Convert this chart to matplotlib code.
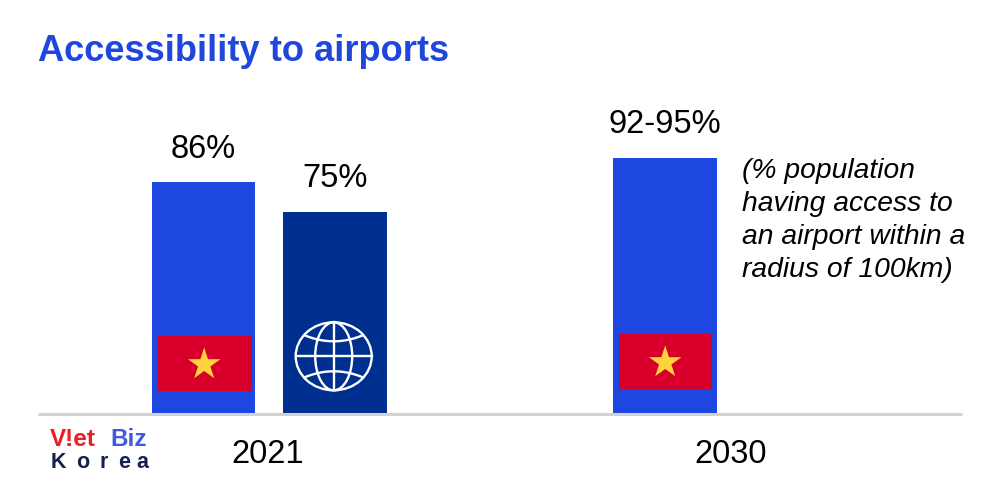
import numpy as np
import matplotlib
matplotlib.use("Agg")
import matplotlib.pyplot as plt
from matplotlib.patches import Rectangle, Ellipse, Polygon

plt.rcParams['font.family'] = ['Liberation Sans', 'DejaVu Sans']

# data
title = "Accessibility to airports"
years = ["2021", "2030"]
bar_values = [86, 75, 95]
bar_labels = ["86%", "75%", "92-95%"]
note = "(% population\nhaving access to\nan airport within a\nradius of 100km)"

BLUE, NAVY = "#1D47E0", "#00308F"
W, H = 1000, 491
fig = plt.figure(figsize=(W/100, H/100), dpi=100, facecolor="white")

base = 413.5
ppu = 2.69
ax = fig.add_axes([38/W, (H-base)/H, 924/W, base/H])
ax.set_xlim(38, 962)
ax.set_ylim(0, base/ppu)
ax.patch.set_alpha(0)
for s in ("top", "left", "right"):
    ax.spines[s].set_visible(False)
ax.spines["bottom"].set_color("#d2d2d2")
ax.spines["bottom"].set_linewidth(2.2)
ax.spines["bottom"].set_capstyle("butt")
ax.set_yticks([])
ax.set_xticks([267.5, 731], years)
ax.tick_params(axis="x", length=0, pad=18.5, labelsize=23.5, labelcolor="black")

centers = [203.5, 335, 665]
colors = [BLUE, NAVY, BLUE]
ax.bar(centers, bar_values, width=103.5, color=colors, zorder=1)
for c, v, lab in zip(centers, bar_values, bar_labels):
    ax.annotate(lab, (c, v), xytext=(0, 17.5), textcoords="offset pixels",
                ha="center", va="bottom", fontsize=23.5, color="black")

ov = fig.add_axes([0, 0, 1, 1])
ov.set_xlim(0, W)
ov.set_ylim(H, 0)
ov.axis("off")
ov.patch.set_alpha(0)

ov.text(38, 51, title, fontsize=26.1, fontweight="bold", color="#1F47DC",
        ha="left", va="center")
ov.text(742, 220.5, note, fontsize=20.3, style="italic", color="black",
        ha="left", va="center", linespacing=1.34)

def flag(x0, x1, y0, y1):
    ov.add_patch(Rectangle((x0, y0), x1-x0, y1-y0, color="#D8002B", lw=0))
    cx, cy, R = (x0+x1)/2-0.3, (y0+y1)/2+1.2, 17
    r = R*0.382
    ang = np.deg2rad(np.arange(10)*36 - 90)
    rad = np.where(np.arange(10) % 2 == 0, R, r)
    ov.add_patch(Polygon(np.c_[cx+rad*np.cos(ang), cy+rad*np.sin(ang)],
                         closed=True, color="#FFD43A", lw=0))

flag(157.5, 251.5, 335.5, 391)
flag(619, 712, 333.5, 389)

gx, gy, rx, ry = 333.7, 356.3, 38, 34
lw = 1.7
gkw = dict(fill=False, ec="white", lw=lw)
ov.add_patch(Ellipse((gx, gy), 2*rx, 2*ry, **gkw))
ov.add_patch(Ellipse((gx, gy), 37, 2*ry, **gkw))
ov.plot([gx, gx], [gy-ry, gy+ry], color="white", lw=lw)
ov.plot([gx-rx, gx+rx], [gy, gy], color="white", lw=lw)
t = np.linspace(-1, 1, 40)
ov.plot(gx+29*t, gy-21+6*(1-t**2), color="white", lw=lw)
ov.plot(gx+29*t, gy+21-6*(1-t**2), color="white", lw=lw)

ov.text(49.5, 446, "V!et", fontsize=17.5, fontweight="bold", color="#EE1C25",
        ha="left", va="baseline")
ov.text(110, 446, "Biz", fontsize=17.5, fontweight="bold", color="#3F5BE0",
        ha="left", va="baseline")
for ch, x in zip("Korea", [58, 83, 104, 124, 142]):
    ov.text(x, 468, ch, fontsize=15.5, fontweight="bold", color="#14204F",
            ha="center", va="baseline")

fig.savefig("out.png", dpi=100)
